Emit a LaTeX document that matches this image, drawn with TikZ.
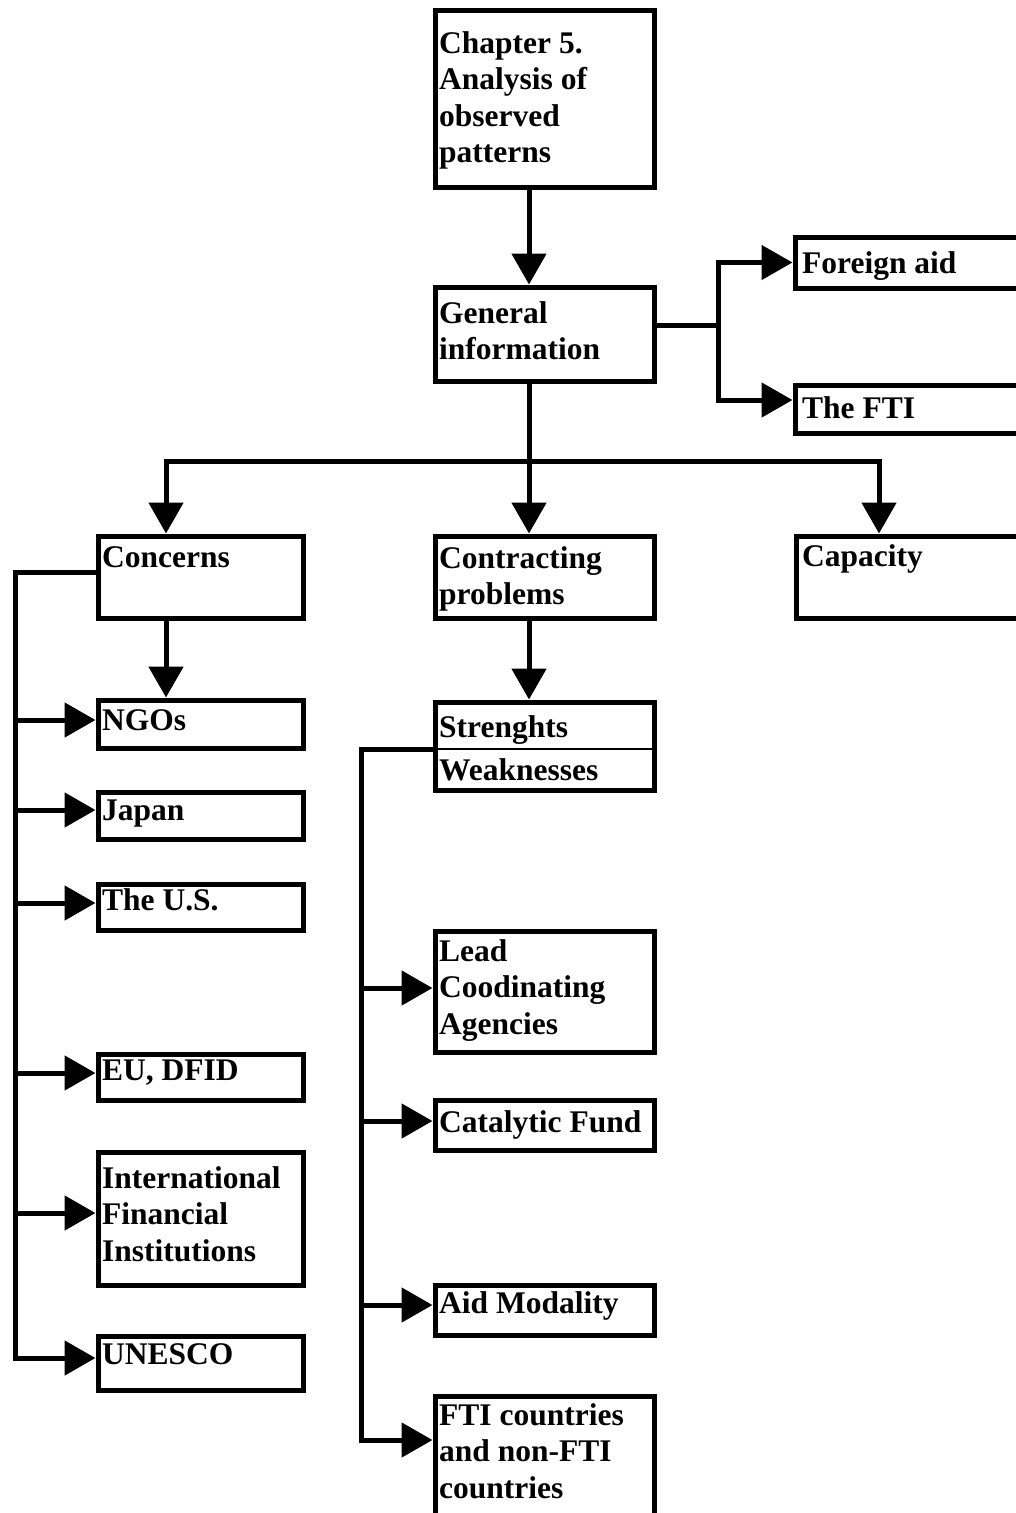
\documentclass[tikz,border=0pt]{standalone}
\usepackage{fontspec}
\setmainfont{Liberation Serif}
\usetikzlibrary{arrows.meta}
% left-aligned lines whose first baseline is the node's baseline
\newcommand\boxlines[1]{\begin{tabular}[t]{@{}l@{}}#1\end{tabular}}
% framed panel given by the centre lines of its border: name, left, top, right, bottom
\newcommand\drawpanel[5]{\node[panel, minimum width={#4-#2}, minimum height={#5-#3}] (#1) at ({#2-2.5},{#3-2.5}) {};}
\begin{document}
\begin{tikzpicture}[x=1pt, y=-1pt,
  panel/.style={draw, line width=5pt, rectangle, anchor=north west, inner sep=0pt},
  txt/.style={anchor=base west, inner sep=0pt, font=\fontsize{31.5}{36.5}\selectfont\bfseries},
  conn/.style={line width=5pt},
  arr/.style={conn, -{Triangle[length=31pt, width=34pt]}},
  divider/.style={line width=2pt}]

\path[use as bounding box, fill=white] (0,0) rectangle (1016,1513);

% panels
\drawpanel{chap}{435}{10}{654}{187}
\drawpanel{gen}{435}{287}{654}{381}
\drawpanel{fa}{795}{237}{1045}{288}
\drawpanel{fti}{795}{385}{1045}{433}
\drawpanel{conc}{98}{536}{303}{618}
\drawpanel{cont}{435}{536}{654}{618}
\drawpanel{cap}{796}{536}{1045}{618}
\drawpanel{ngos}{98}{700}{303}{748}
\drawpanel{japan}{98}{792}{303}{839}
\drawpanel{us}{98}{884}{303}{930}
\drawpanel{eu}{98}{1054}{303}{1100}
\drawpanel{ifi}{98}{1152}{303}{1285}
\drawpanel{unesco}{98}{1336}{303}{1390}
\drawpanel{sw}{435}{702}{654}{790}
\drawpanel{lead}{435}{931}{654}{1052}
\drawpanel{cat}{435}{1100}{654}{1150}
\drawpanel{aid}{435}{1285}{654}{1335}
\drawpanel{ftic}{435}{1396}{654}{1540}

% labels
\node[txt] (chap-t) at (439,53) {\boxlines{Chapter 5.\\Analysis of\\observed\\patterns}};
\node[txt] (gen-t) at (439,323) {\boxlines{General\\information}};
\node[txt] (fa-t) at (802,273) {Foreign aid};
\node[txt] (fti-t) at (802,418) {The FTI};
\node[txt] (conc-t) at (102,567) {Concerns};
\node[txt] (cont-t) at (439,568) {\boxlines{Contracting\\problems}};
\node[txt] (cap-t) at (802,566) {Capacity};
\node[txt] (ngos-t) at (102,730) {NGOs};
\node[txt] (japan-t) at (102,820) {Japan};
\node[txt] (us-t) at (102,910) {The U.S.};
\node[txt] (eu-t) at (102,1080) {EU, DFID};
\node[txt] (ifi-t) at (102,1188) {\boxlines{International\\Financial\\Institutions}};
\node[txt] (unesco-t) at (102,1364) {UNESCO};
\node[txt] (sw-t1) at (439,737) {Strenghts};
\node[txt] (sw-t2) at (439,780) {Weaknesses};
\node[txt] (lead-t) at (439,961) {\boxlines{Lead\\Coodinating\\Agencies}};
\node[txt] (cat-t) at (439,1132) {Catalytic Fund};
\node[txt] (aid-t) at (439,1313) {Aid Modality};
\node[txt] (ftic-t) at (439,1425) {\boxlines{FTI countries\\and non-FTI\\countries}};

% divider between strengths and weaknesses
\coordinate (divy) at (0,749);
\draw[divider] (sw.west |- divy) -- (sw.east |- divy);

% trunk and junction points
\coordinate (cx) at (529,0);
\coordinate (gsplit) at (718,325);
\coordinate (ftiy) at (0,400);
\coordinate (hy) at (0,461);
\coordinate (lx) at (166,0);
\coordinate (rx) at (879,0);
\coordinate (lbus) at (15.5,572);
\coordinate (rbus) at (361,749);
\coordinate (la1) at (0,720);
\coordinate (la2) at (0,810);
\coordinate (la3) at (0,903);
\coordinate (la4) at (0,1073);
\coordinate (la5) at (0,1213);
\coordinate (la6) at (0,1358);
\coordinate (ra1) at (0,988);
\coordinate (ra2) at (0,1121);
\coordinate (ra3) at (0,1305);
\coordinate (ra4) at (0,1440);

% chapter to general information
\draw[arr] (chap.south -| cx) -- (gen.north -| cx);

% general information to its two topics
\draw[conn] (gen.east |- gsplit) -- (gsplit);
\draw[arr] (gsplit) |- (fa.west);
\draw[arr] (gsplit) |- (fti.west |- ftiy);

% general information to the three themes
\draw[arr] (gen.south -| cx) -- (cont.north -| cx);
\draw[arr] (cx |- hy) -| (conc.north -| lx);
\draw[arr] (cx |- hy) -| (cap.north -| rx);

% concerns
\draw[arr] (conc.south -| lx) -- (ngos.north -| lx);
\draw[arr] (conc.west |- lbus) -- (lbus) |- (unesco.west |- la6);
\draw[arr] (lbus |- la1) -- (ngos.west |- la1);
\draw[arr] (lbus |- la2) -- (japan.west |- la2);
\draw[arr] (lbus |- la3) -- (us.west |- la3);
\draw[arr] (lbus |- la4) -- (eu.west |- la4);
\draw[arr] (lbus |- la5) -- (ifi.west |- la5);

% contracting problems
\draw[arr] (cont.south -| cx) -- (sw.north -| cx);
\draw[arr] (sw.west |- rbus) -- (rbus) |- (ftic.west |- ra4);
\draw[arr] (rbus |- ra1) -- (lead.west |- ra1);
\draw[arr] (rbus |- ra2) -- (cat.west |- ra2);
\draw[arr] (rbus |- ra3) -- (aid.west |- ra3);

\end{tikzpicture}
\end{document}
